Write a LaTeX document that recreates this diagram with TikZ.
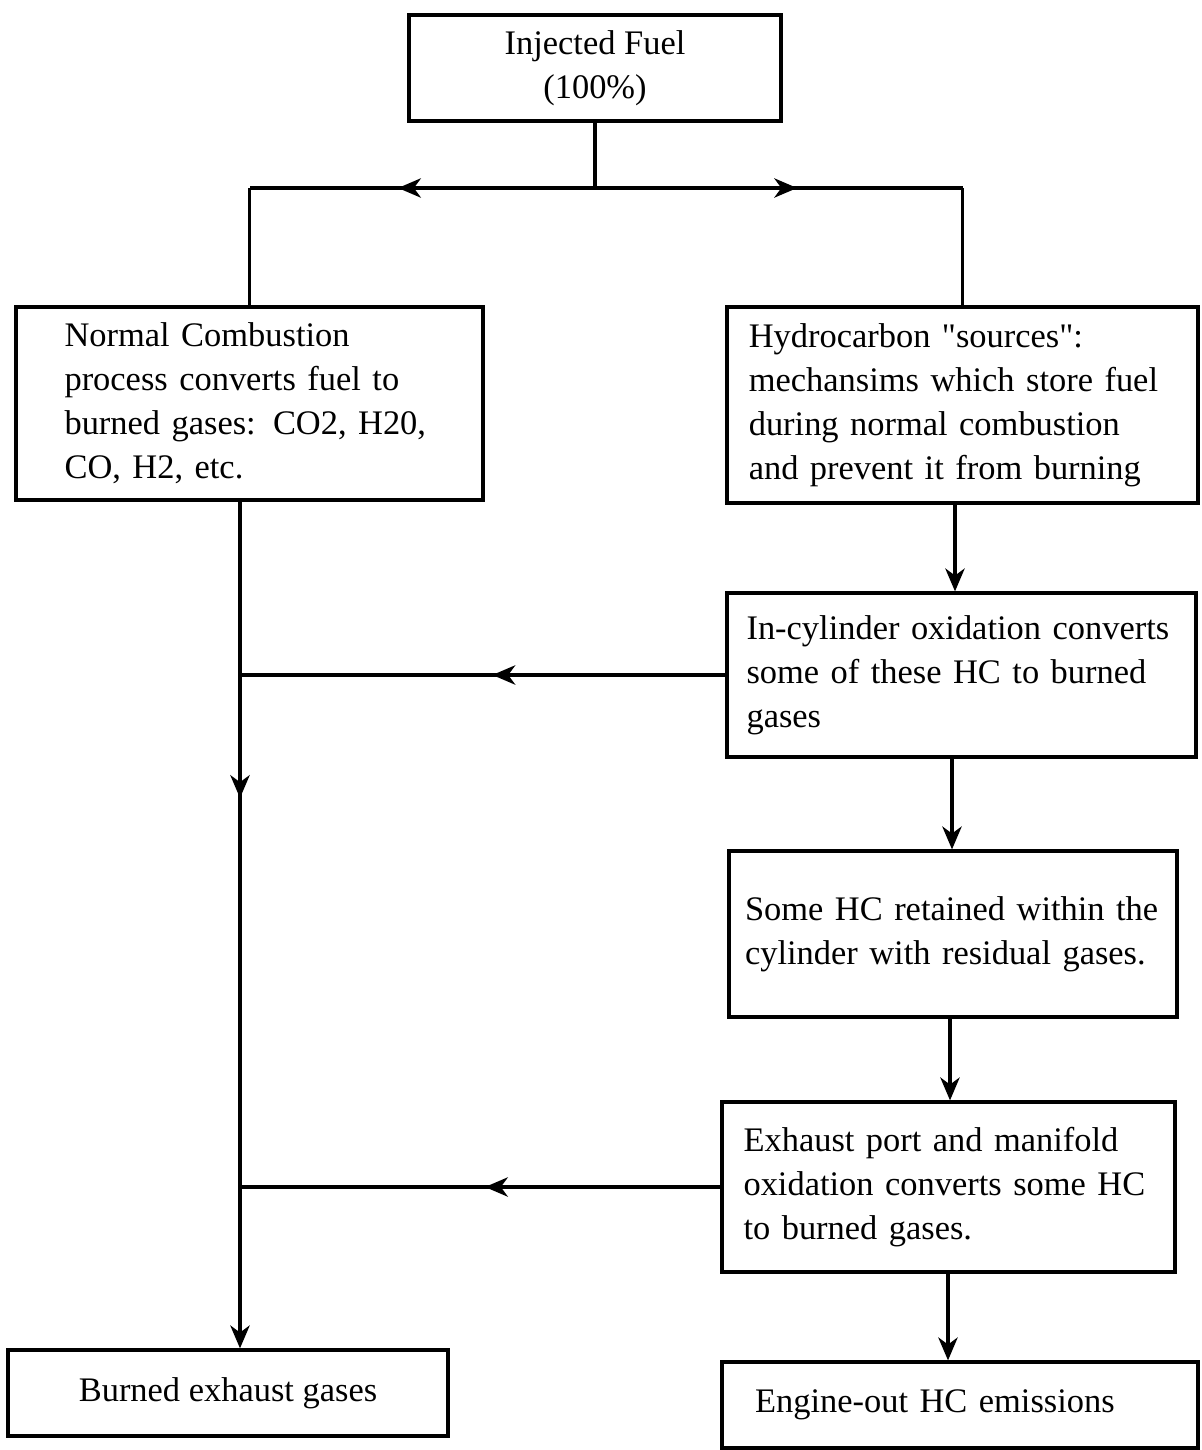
\documentclass[tikz,border=0pt]{standalone}
\usepackage{fontspec}
\setmainfont{Liberation Serif}
\usetikzlibrary{arrows.meta}
\usetikzlibrary{decorations.markings}

\tikzset{
    box/.style={draw, line width=1.9pt, inner sep=0pt, font=\fontsize{19.6}{25}\selectfont},
    link/.style={line width=1.9pt},
    midarrow/.style={link, postaction={decorate},
        decoration={markings, mark=at position #1 with {\arrow{Stealth[length=13pt, width=11pt, inset=4pt]}}}}
}

\begin{document}
\begin{tikzpicture}[x=0.02cm, y=-0.02cm]
        \useasboundingbox (0,0) rectangle (1202,1450);

        % boxes
        \node [box, minimum width=7.44cm, minimum height=2.12cm, align=center] (fuel) at (595,68) {Injected Fuel\\(100\%)};
        \node [box, minimum width=9.34cm, minimum height=3.86cm, text width=7.4cm, align=left] (normal) at (249.5,403.5)
            {Normal Combustion\\process converts fuel to\\burned gases: CO2, H20,\\CO, H2, etc.};
        \node [box, minimum width=9.42cm, minimum height=3.92cm, text width=8.55cm, align=left] (sources) at (962.5,405)
            {Hydrocarbon \textquotedbl sources\textquotedbl:\\mechansims which store fuel\\during normal combustion\\and prevent it from burning};
        \node [box, minimum width=9.38cm, minimum height=3.28cm, text width=8.6cm, align=left] (incyl) at (961.5,675)
            {In-cylinder oxidation converts\\some of these HC to burned\\gases};
        \node [box, minimum width=8.96cm, minimum height=3.32cm, text width=8.32cm, align=left] (retained) at (953,934)
            {Some HC retained within the\\cylinder with residual gases.};
        \node [box, minimum width=9.06cm, minimum height=3.4cm, text width=8.2cm, align=left] (exhport) at (948.5,1187)
            {Exhaust port and manifold\\oxidation converts some HC\\to burned gases.};
        \node [box, minimum width=8.8cm, minimum height=1.72cm] (burned) at (228,1393) {Burned exhaust gases};
        \node [box, minimum width=9.52cm, minimum height=1.72cm, text width=8.2cm, align=left] (hcout) at (960,1405) {Engine-out HC emissions};

        % split below the fuel box
        \coordinate (split) at (fuel.south |- 0,188);
        \coordinate (trunk) at (240,500);
        \draw [link] (fuel.south) -- (split);
        \draw [midarrow=0.57] (split) -- (split -| normal.north);
        \draw [link] (split -| normal.north) -- (normal.north);
        \draw [midarrow=0.55] (split) -- (split -| sources.north);
        \draw [link] (split -| sources.north) -- (sources.north);

        % left trunk
        \draw [midarrow=0.35, -{Stealth[length=13pt, width=11pt, inset=4pt]}] (normal.south -| trunk) -- (burned.north -| trunk);
        \draw [midarrow=0.48] (incyl.west) -- (incyl.west -| trunk);
        \draw [midarrow=0.49] (exhport.west) -- (exhport.west -| trunk);

        % right chain
        \draw [link, -{Stealth[length=13pt, width=11pt, inset=4pt]}] (sources.south -| 955,0) -- (incyl.north -| 955,0);
        \draw [link, -{Stealth[length=13pt, width=11pt, inset=4pt]}] (incyl.south -| 952,0) -- (retained.north -| 952,0);
        \draw [link, -{Stealth[length=13pt, width=11pt, inset=4pt]}] (retained.south -| 950,0) -- (exhport.north -| 950,0);
        \draw [link, -{Stealth[length=13pt, width=11pt, inset=4pt]}] (exhport.south -| 948,0) -- (hcout.north -| 948,0);
\end{tikzpicture}
\end{document}
